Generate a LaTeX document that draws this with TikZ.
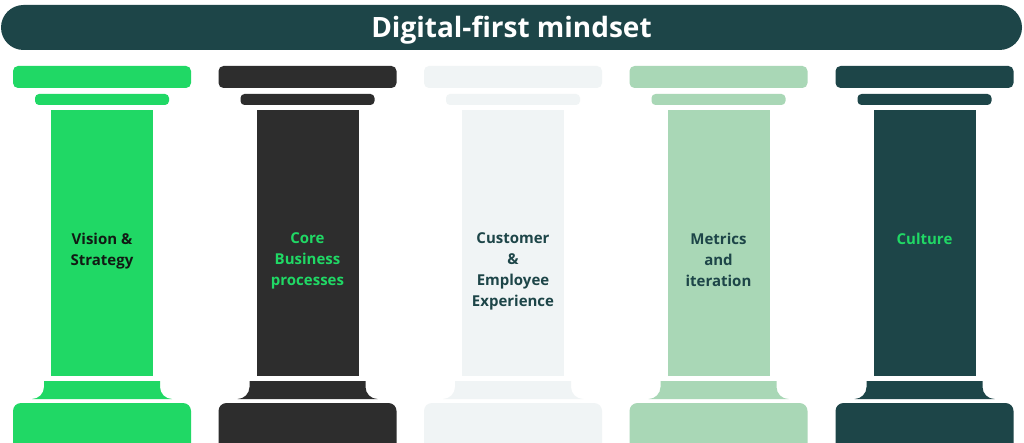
\documentclass[tikz,border=0pt]{standalone}
\usepackage{fontspec}
\setmainfont{Open Sans}
\definecolor{pgreen}{HTML}{20D865}
\definecolor{pdark}{HTML}{2D2D2D}
\definecolor{plight}{HTML}{F0F4F5}
\definecolor{pmint}{HTML}{A9D7B6}
\definecolor{pteal}{HTML}{1D4548}
\definecolor{pblack}{HTML}{111A14}
\tikzset{
  pillarfig/.style={x=1pt,y=-1pt,
    every node/.style={font=\bfseries,align=center}},
  banner/.style={fill=pteal,text=white,rounded corners=22.5pt,
    minimum width=1021pt,minimum height=45pt,inner sep=0pt,
    text height=20pt,text depth=0pt,
    font=\fontsize{28}{32}\selectfont\bfseries},
  pillarlabel/.style={anchor=north,inner sep=0pt,
    font=\fontsize{15}{21}\selectfont\bfseries},
}
\begin{document}
\begin{tikzpicture}[pillarfig]
    \fill[white] (0,0) rectangle (1024,443);
    \clip (0,0) rectangle (1024,443);

    \node[banner] (mindset) at (511.5,27.5) {Digital-first mindset};

    % the five columns: capital, shaft, base
    \foreach \cx/\col in {102/pgreen,307.5/pdark,513/plight,718.5/pmint,924.5/pteal}{
      \fill[\col,rounded corners=5pt] (\cx-89,66) rectangle (\cx+89,88);
      \fill[\col,rounded corners=4pt] (\cx-67,94) rectangle (\cx+67,105);
      \fill[\col] (\cx-51,110) rectangle (\cx+51,376);
      \fill[\col] (\cx-58,381) -- (\cx-58,387)
        .. controls (\cx-58,393.6) and (\cx-63.4,399) .. (\cx-70,399)
        -- (\cx+70,399)
        .. controls (\cx+63.4,399) and (\cx+58,393.6) .. (\cx+58,387)
        -- (\cx+58,381) -- cycle;
      \fill[\col,rounded corners=8pt] (\cx-89,403) rectangle (\cx+89,470);
    }

    \node[pillarlabel,text=pblack] (vision) at (102,232.5)
      {Vision \&\\Strategy};
    \node[pillarlabel,text=pgreen] (core) at (307.5,232.5)
      {Core\\Business\\processes};
    \node[pillarlabel,text=pteal] (custexp) at (513,232.5)
      {Customer\\\&\\Employee\\Experience};
    \node[pillarlabel,text=pteal] (metrics) at (718.5,232.5)
      {Metrics\\and\\iteration};
    \node[pillarlabel,text=pgreen] (culture) at (924.5,232.5)
      {Culture};
\end{tikzpicture}
\end{document}
